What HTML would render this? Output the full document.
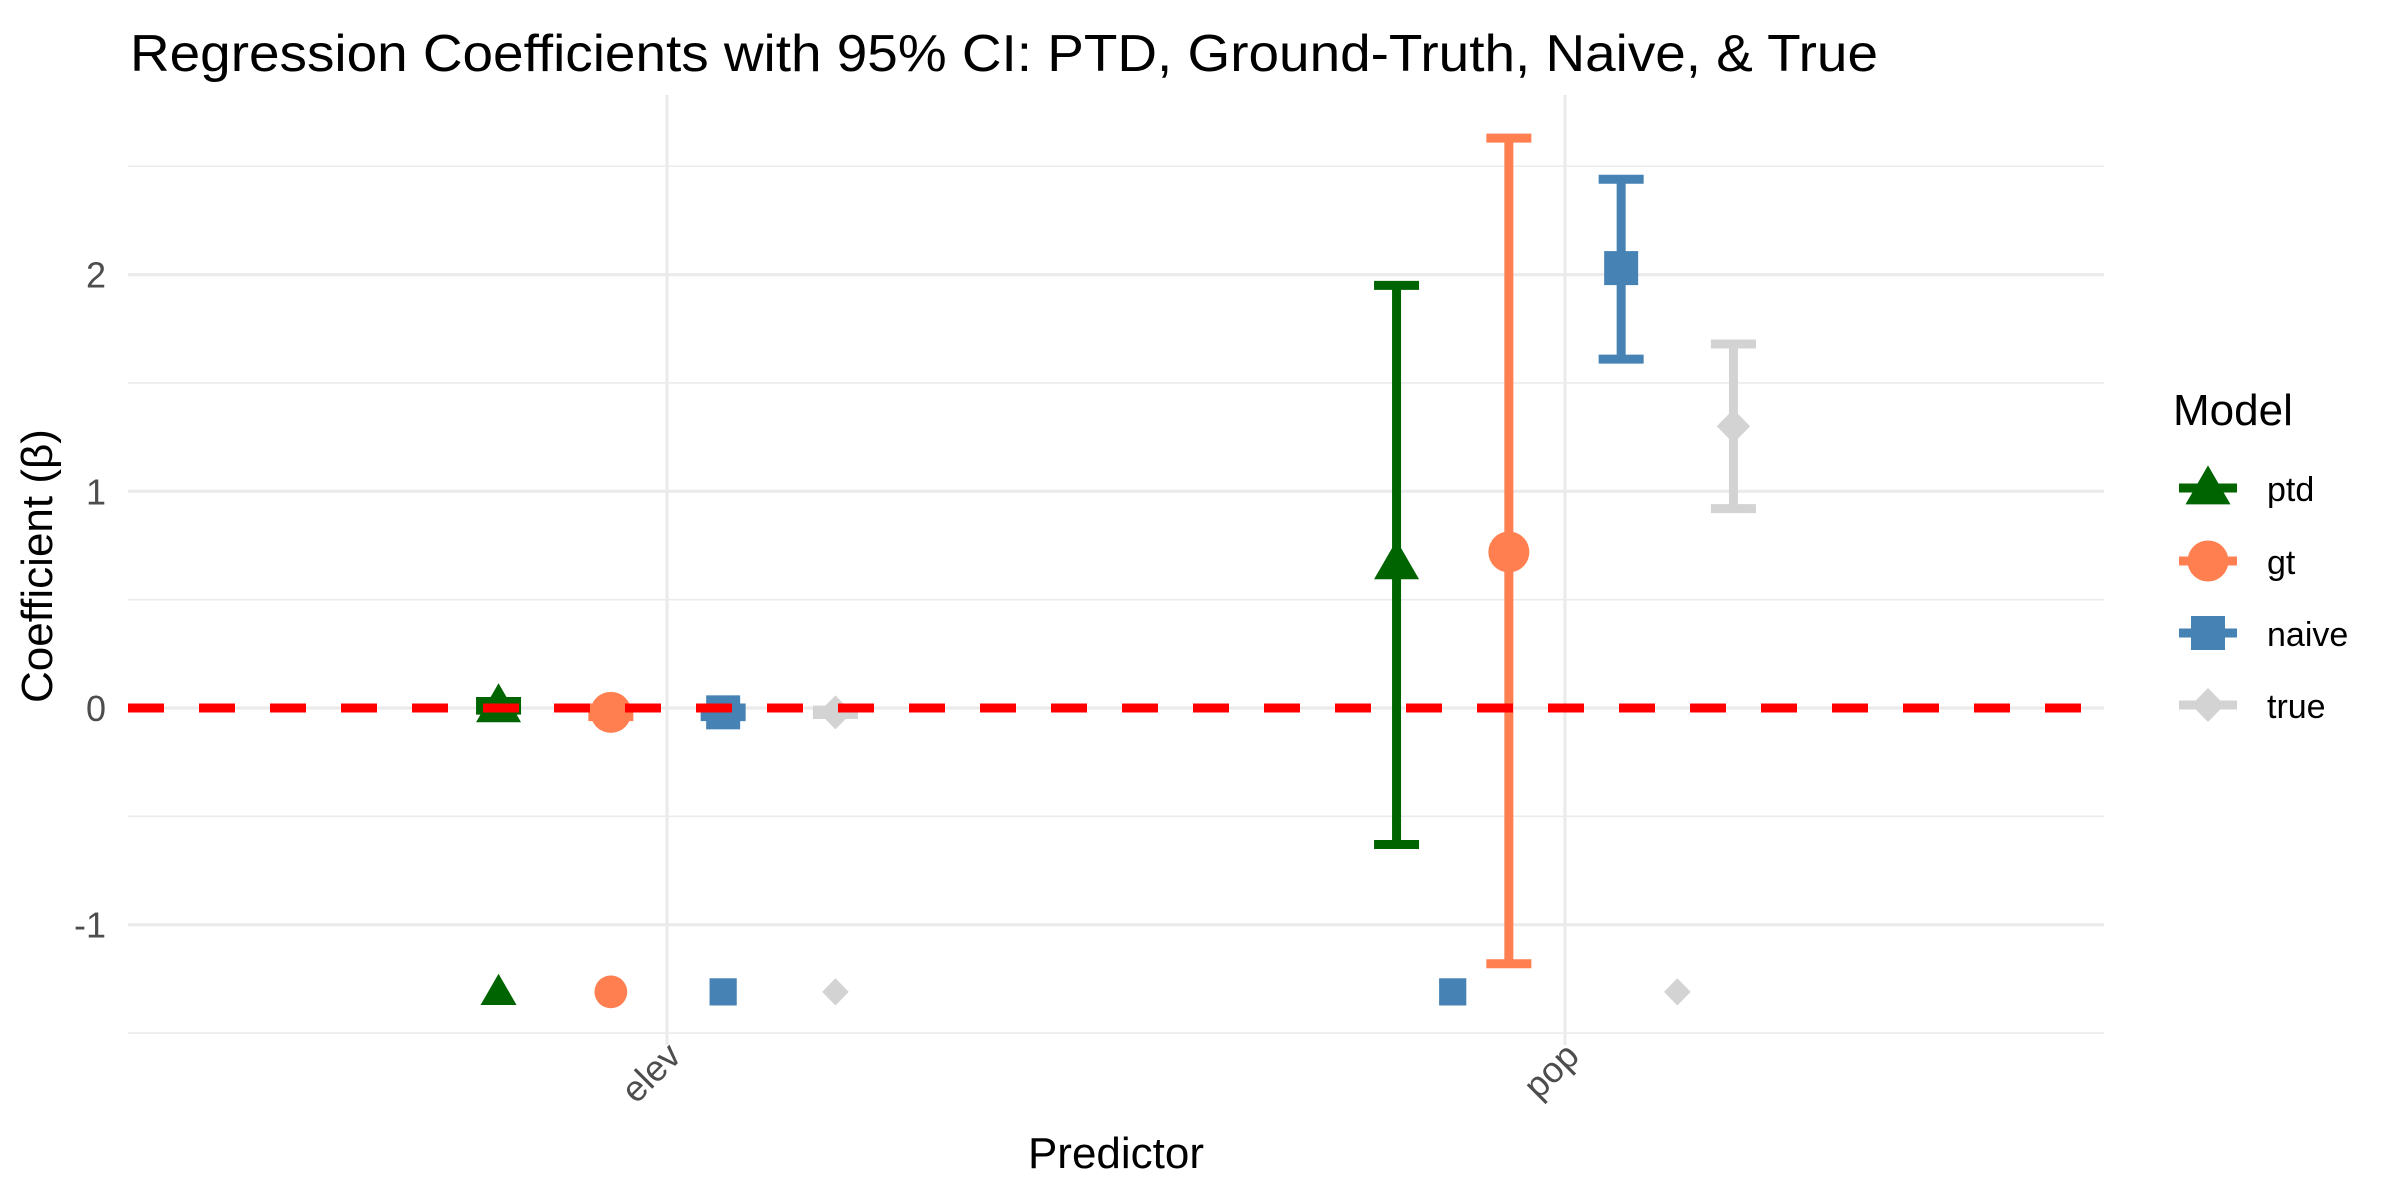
<!DOCTYPE html>
<html><head><meta charset="utf-8"><style>
html,body{margin:0;padding:0;background:#fff}
svg{display:block;font-family:"Liberation Sans",Arial,sans-serif}
</style></head><body>
<svg id="chart" width="2400" height="1200" viewBox="0 0 2400 1200" xmlns="http://www.w3.org/2000/svg">
<rect width="2400" height="1200" fill="#fff"/>
<text x="130" y="71" font-size="52" fill="#000" textLength="1748" lengthAdjust="spacingAndGlyphs">Regression Coefficients with 95% CI: PTD, Ground-Truth, Naive, &amp; True</text>
<g id="grid"></g>
<g id="marks"></g>
<text x="52" y="566" font-size="44" fill="#000" text-anchor="middle" transform="rotate(-90 52 566)">Coefficient (β)</text>
<text x="1116" y="1168" font-size="44" fill="#000" text-anchor="middle">Predictor</text>
<g id="legend">
<text x="2173" y="425" font-size="44" fill="#000">Model</text>
</g>
</svg>
<script>
const categories = ["elev","pop"];
const models = ["ptd","gt","naive","true"];
const colors = ["#006400","#FF7F50","#4682B4","#D3D3D3"];
const estElev = [0.01,-0.02,-0.02,-0.02];
const lowElev = [-0.01,-0.04,-0.04,-0.03];
const highElev = [0.03,0.0,0.0,-0.01];
const estPop = [0.67,0.72,2.03,1.30];
const lowPop = [-0.63,-1.18,1.61,0.92];
const highPop = [1.95,2.63,2.44,1.68];
const extraCat = [0,0,0,0,1,1];
const extraModel = [0,1,2,3,2,3];
const extraSlot = [-1.5,-0.5,0.5,1.5,-1,1];
const extraVal = [-1.31,-1.31,-1.31,-1.31,-1.31,-1.31];
const yTicks = [-1,0,1,2];
const yTickLabels = ["-1","0","1","2"];
const yMinor = [-1.5,-0.5,0.5,1.5,2.5];

const NS="http://www.w3.org/2000/svg";
const L=128,R=2104,TOP=95,BOT=1045;
const yScale=v=>708-v*216.7;
const xCat=i=>667+i*898;
const dodge=s=>s*112.3;
function mk(tag,attrs,parent){const e=document.createElementNS(NS,tag);for(const k in attrs)e.setAttribute(k,attrs[k]);parent.appendChild(e);return e;}
const grid=document.getElementById('grid'),marks=document.getElementById('marks'),legend=document.getElementById('legend'),svg=document.getElementById('chart');

yMinor.forEach(v=>{const e=mk('line',{x1:L,x2:R,y1:yScale(v),y2:yScale(v),stroke:'#ebebeb','stroke-width':1.6},grid);

});
yTicks.forEach((v,i)=>{const e=mk('line',{x1:L,x2:R,y1:yScale(v),y2:yScale(v),stroke:'#ebebeb','stroke-width':3.2},grid);


const t=mk('text',{x:106,y:yScale(v)+13,'font-size':36,fill:'#4d4d4d','text-anchor':'end'},svg);t.textContent=yTickLabels[i];

});
categories.forEach((c,i)=>{const e=mk('line',{x1:xCat(i),x2:xCat(i),y1:TOP,y2:BOT,stroke:'#ebebeb','stroke-width':3.2},grid);


const tx=xCat(i)+16,ty=1058;
const t=mk('text',{x:tx,y:ty,'font-size':36,fill:'#4d4d4d','text-anchor':'end',transform:`rotate(-45 ${tx} ${ty})`},svg);t.textContent=c;

});

function shape(m,cx,cy,scale,parent){const c=colors[m];let e;
if(m===0){const w=45*scale,h=39*scale;e=mk('polygon',{points:`${cx-w/2},${cy+h*0.42} ${cx+w/2},${cy+h*0.42} ${cx},${cy-h*0.58}`,fill:c},parent);}
else if(m===1){e=mk('circle',{cx:cx,cy:cy,r:20.5*scale,fill:c},parent);}
else if(m===2){const s=34*scale;e=mk('rect',{x:cx-s/2,y:cy-s/2,width:s,height:s,fill:c},parent);}
else{const s=17*scale;e=mk('polygon',{points:`${cx},${cy-s} ${cx+s*0.98},${cy} ${cx},${cy+s} ${cx-s*0.98},${cy}`,fill:c},parent);}
return e;}

const ests=[estElev,estPop],lows=[lowElev,lowPop],highs=[highElev,highPop];
categories.forEach((c,ci)=>{models.forEach((m,mi)=>{
const x=xCat(ci)+dodge(mi-1.5);const g=mk('g',{},marks);


const y1=yScale(lows[ci][mi]),y2=yScale(highs[ci][mi]);
mk('line',{x1:x,x2:x,y1:y1,y2:y2,stroke:colors[mi],'stroke-width':9},g);
mk('line',{x1:x-22.5,x2:x+22.5,y1:y1,y2:y1,stroke:colors[mi],'stroke-width':9},g);
mk('line',{x1:x-22.5,x2:x+22.5,y1:y2,y2:y2,stroke:colors[mi],'stroke-width':9},g);
const p=shape(mi,x,yScale(ests[ci][mi]),1,marks);


});});
extraVal.forEach((v,i)=>{const x=xCat(extraCat[i])+dodge(extraSlot[i]);
const p=shape(extraModel[i],x,yScale(v),0.8,marks);

});
const z=mk('line',{x1:L,x2:R,y1:yScale(0),y2:yScale(0),stroke:'#ff0000','stroke-width':9,'stroke-dasharray':'36 35'},marks);



const legY=[488,561,633,705];
models.forEach((m,i)=>{const g=mk('g',{},legend);


mk('line',{x1:2179,x2:2237,y1:legY[i],y2:legY[i],stroke:colors[i],'stroke-width':9},g);
shape(i,2208,legY[i],1,g);
const t=mk('text',{x:2267,y:legY[i]+13,'font-size':34,fill:'#000'},g);t.textContent=m;});
</script>
</body></html>
